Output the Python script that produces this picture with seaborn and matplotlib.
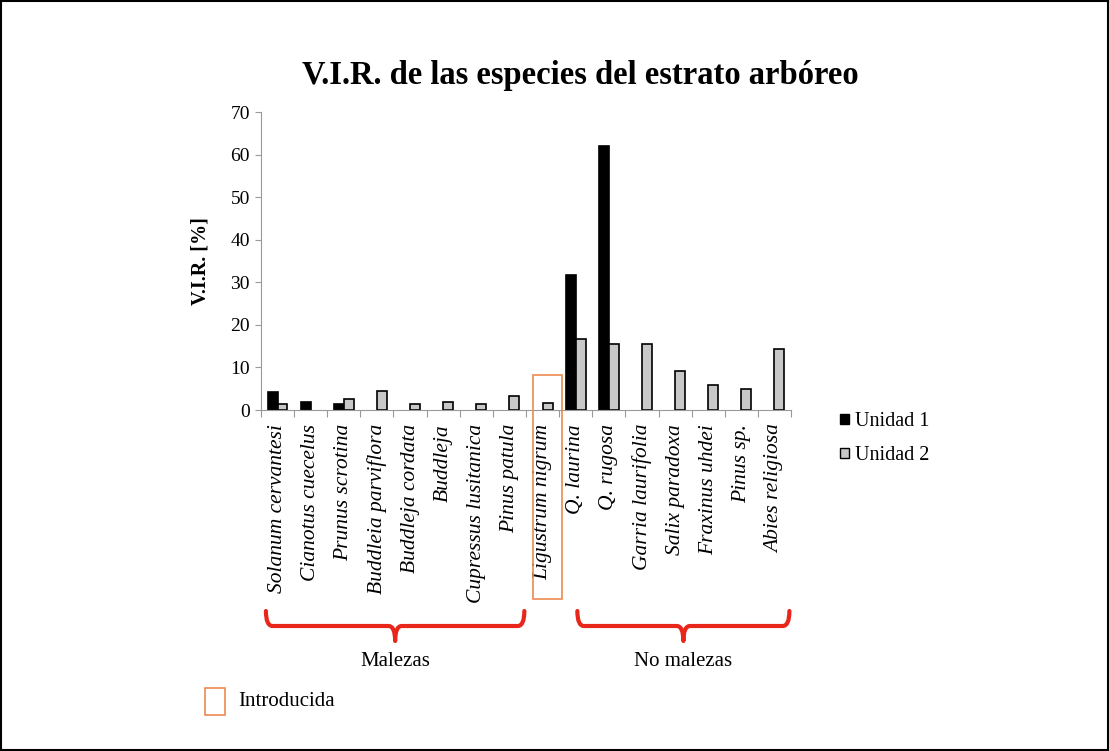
import numpy as np
import pandas as pd
import seaborn as sns
import matplotlib
matplotlib.use("Agg")
import matplotlib.pyplot as plt
from matplotlib.path import Path
from matplotlib.patches import PathPatch, Rectangle
import matplotlib.transforms as mtransforms

species = ["Solanum cervantesi", "Cianotus cuecelus", "Prunus scrotina",
           "Buddleia parviflora", "Buddleja cordata", "Buddleja",
           "Cupressus lusitanica", "Pinus patula", "Ligustrum nigrum",
           "Q. laurina", "Q. rugosa", "Garria laurifolia", "Salix paradoxa",
           "Fraxinus uhdei", "Pinus sp.", "Abies religiosa"]
unidad1 = [4.2, 1.9, 1.4, np.nan, np.nan, np.nan, np.nan, np.nan, np.nan,
           31.8, 62.1, np.nan, np.nan, np.nan, np.nan, np.nan]
unidad2 = [1.4, np.nan, 2.5, 4.4, 1.5, 1.9, 1.5, 3.3, 1.7,
           16.6, 15.6, 15.4, 9.2, 5.9, 4.9, 14.4]
series_names = ["Unidad 1", "Unidad 2"]
groups = [("Malezas", 0, 7), ("No malezas", 9, 15)]
introduced = ["Ligustrum nigrum"]

df = pd.DataFrame({
    "Especie": species * 2,
    "Serie": [series_names[0]] * len(species) + [series_names[1]] * len(species),
    "VIR": unidad1 + unidad2,
})

sns.set_theme(style="white")
plt.rcParams["font.family"] = ["Liberation Serif", "DejaVu Serif"]
for k in ["text.color", "axes.labelcolor", "xtick.labelcolor", "ytick.labelcolor"]:
    plt.rcParams[k] = "black"

fig = plt.figure(figsize=(11.09, 7.51), dpi=100)
ax = fig.add_axes([0.2353, 0.454, 0.478, 0.3968])

colors = {"Unidad 1": "#000000", "Unidad 2": "#c8c8c8"}
sns.barplot(data=df, x="Especie", y="VIR", hue="Serie", order=species,
            hue_order=series_names, palette=colors, width=0.6,
            edgecolor="black", linewidth=1.2, ax=ax, legend=False)

ax.set_ylim(0, 70)
ax.set_xlim(-0.5, len(species) - 0.5)
ax.set_yticks(np.arange(0, 71, 10))
ax.tick_params(axis="y", labelsize=14, length=4, width=0.8, color="#999999",
               direction="out", left=True, pad=4, labelcolor="black")
ax.set_xticks(np.arange(len(species)))
ax.set_xticklabels(species, rotation=90, fontsize=15.5, fontstyle="italic",
                   va="top", ha="center", color="black")
ax.tick_params(axis="x", length=0, pad=10)
ax.set_xticks(np.arange(len(species) + 1) - 0.5, minor=True)
ax.tick_params(axis="x", which="minor", length=5, width=0.8, color="#999999",
               direction="out", bottom=True)
ax.set_xlabel("")
ax.set_ylabel("V.I.R. [%]", fontsize=14.5, fontweight="bold", labelpad=14,
              color="black")
for s in ["top", "right"]:
    ax.spines[s].set_visible(False)
for s in ["left", "bottom"]:
    ax.spines[s].set_color("#999999")
    ax.spines[s].set_linewidth(0.8)

fig.text(0.523, 0.9, "V.I.R. de las especies del estrato arbóreo",
         ha="center", va="center", fontsize=23.5, fontweight="bold",
         color="black")

# legend
handles = [Rectangle((0, 0), 1, 1, facecolor=colors[n], edgecolor="black",
                     linewidth=1) for n in series_names]
leg = fig.legend(handles, series_names, loc="upper left",
                 bbox_to_anchor=(0.7505, 0.462), frameon=False, fontsize=14.5,
                 handlelength=0.45, handleheight=0.45, handletextpad=0.3,
                 labelspacing=0.75, borderaxespad=0)
for t in leg.get_texts():
    t.set_color("black")

# introduced box around Ligustrum
blend = mtransforms.blended_transform_factory(ax.transData, fig.transFigure)
orange = "#ED8A50"
for name in introduced:
    i = species.index(name)
    x0 = i + 0.15 - 0.45
    ytop = fig.transFigure.inverted().transform(ax.transData.transform((0, 8.3)))[1]
    ybot = 1 - 599 / 751
    r = Rectangle((x0, ybot), 0.9, ytop - ybot, transform=blend,
                  fill=False, edgecolor=orange, linewidth=1.2, clip_on=False)
    fig.add_artist(r)

# braces
red = "#E8261A"
def brace(xa, xb, ytop, ymid, ytip, d=0.2):
    xm = (xa + xb) / 2
    verts = [(xa, ytop), (xa, ymid), (xa + d, ymid), (xa + d, ymid),
             (xm - d, ymid),
             (xm, ymid), (xm, ytip), (xm, ymid), (xm + d, ymid),
             (xb - d, ymid),
             (xb, ymid), (xb, ytop)]
    codes = [Path.MOVETO, Path.CURVE3, Path.CURVE3, Path.LINETO, Path.LINETO,
             Path.CURVE3, Path.CURVE3, Path.CURVE3, Path.CURVE3, Path.LINETO,
             Path.CURVE3, Path.CURVE3]
    p = PathPatch(Path(verts, codes), transform=blend, fill=False,
                  edgecolor=red, linewidth=3, clip_on=False,
                  capstyle="round", joinstyle="round")
    fig.add_artist(p)

yb_top = 1 - 611 / 751
yb_mid = 1 - 626 / 751
yb_tip = 1 - 641 / 751
for label, a, b in groups:
    xa, xb = a - 0.35, b + 0.45
    if a > 0:
        xa = a + 0.05
    brace(xa, xb, yb_top, yb_mid, yb_tip)
    fig.text((xa + xb) / 2, 1 - 661 / 751, label, transform=blend,
             ha="center", va="center", fontsize=15, color="black")

# Introducida legend
fig.add_artist(Rectangle((205 / 1109, 1 - 715 / 751), 20 / 1109, 27 / 751,
                         transform=fig.transFigure, fill=False,
                         edgecolor=orange, linewidth=1.2))
fig.text(238 / 1109, 1 - 701 / 751, "Introducida", ha="left", va="center",
         fontsize=15, color="black")

# figure border
fig.add_artist(Rectangle((0.001, 0.001), 0.998, 0.998, transform=fig.transFigure,
                         fill=False, edgecolor="black", linewidth=1.5))

fig.savefig("out.png", dpi=100)
